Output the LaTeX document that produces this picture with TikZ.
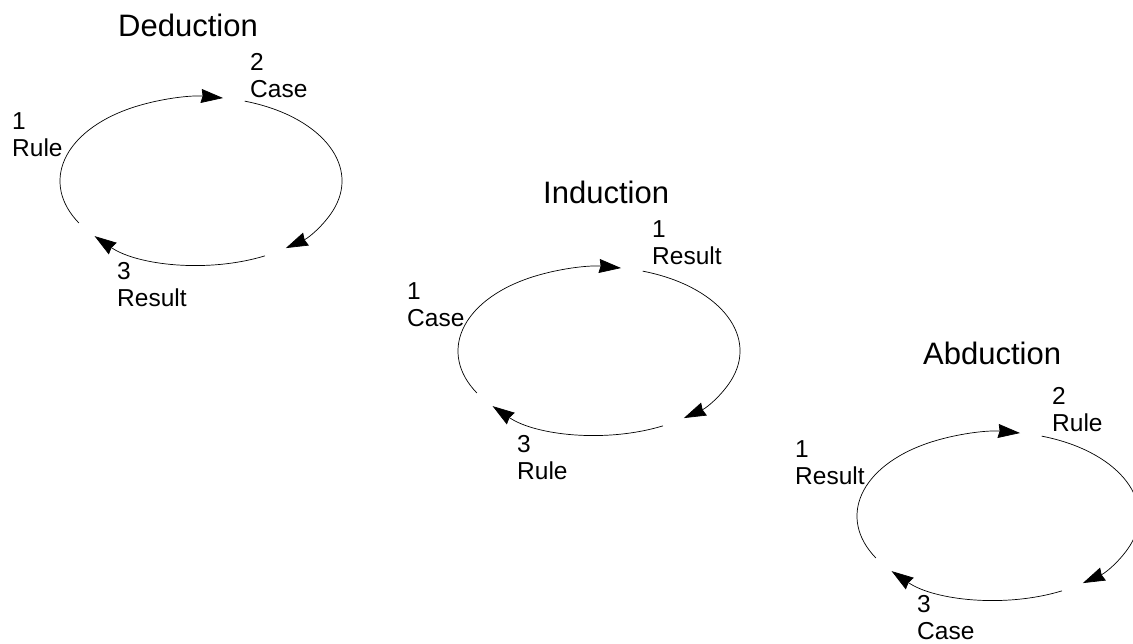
\documentclass[tikz,border=0pt]{standalone}
\usepackage{fontspec}
\setmainfont{Liberation Sans}
\usetikzlibrary{arrows.meta}
\begin{document}
\begin{tikzpicture}[x=1pt,y=1pt,
  cyc/.style={line width=0.7pt, -{Stealth[length=22pt,width=14pt,inset=1.5pt]}},
  ttl/.style={anchor=base west, inner sep=0pt, font=\fontsize{31}{36}\selectfont},
  lab/.style={anchor=north west, inner sep=0pt, align=left, font=\fontsize{24.5}{27}\selectfont}]
\useasboundingbox (0,0) rectangle (1133,643);
\foreach \n/\cx/\cy in {ded/201/462, ind/599/292, abd/998/127} {
  \coordinate (\n) at (\cx,\cy);
  \draw[cyc] (\n) ++(210:141 and 84) arc[start angle=210,end angle=81,x radius=141,y radius=84];
  \draw[cyc] (\n) ++(72:141 and 84) arc[start angle=72,end angle=-53,x radius=141,y radius=84];
  \draw[cyc] (\n) ++(-63:141 and 84) arc[start angle=-63,end angle=-139,x radius=141,y radius=84];
}
% Deduction
\node[ttl] (tded) at (118,606) {Deduction};
\node[lab] (d2) at (250,590) {2\\Case};
\node[lab] (d1) at (12,531) {1\\Rule};
\node[lab] (d3) at (117,381) {3\\Result};
% Induction
\node[ttl] (tind) at (543,439) {Induction};
\node[lab] (i2) at (652,423) {1\\Result};
\node[lab] (i1) at (407,361) {1\\Case};
\node[lab] (i3) at (517,208) {3\\Rule};
% Abduction
\node[ttl] (tabd) at (923,278) {Abduction};
\node[lab] (a2) at (1052,256) {2\\Rule};
\node[lab] (a1) at (795,203) {1\\Result};
\node[lab] (a3) at (917,48) {3\\Case};
\end{tikzpicture}
\end{document}
